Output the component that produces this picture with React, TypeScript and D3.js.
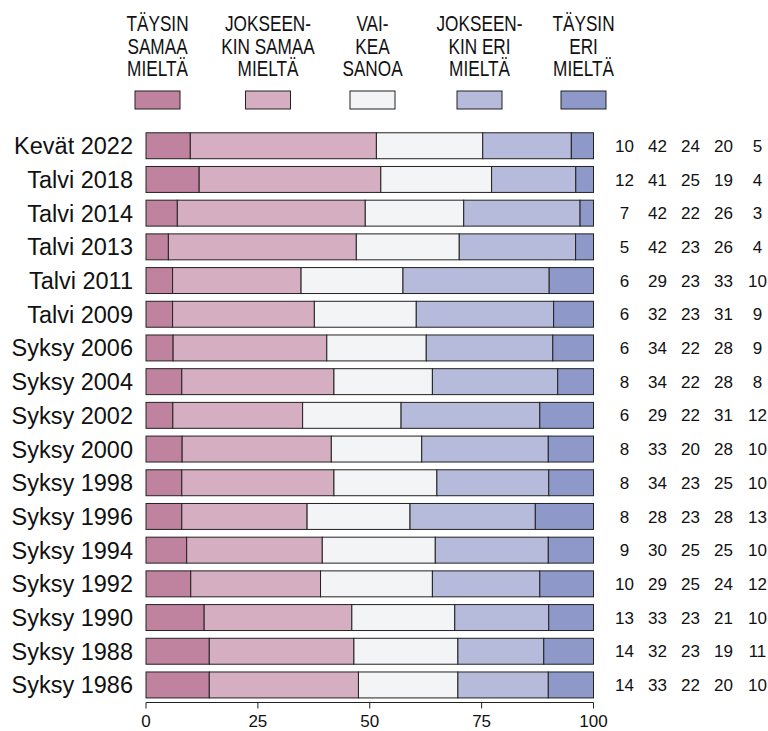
import React, { useEffect, useRef } from 'react';
import * as d3 from 'd3';

// Survey rows, newest first
const periods = [
  'Kevät 2022', 'Talvi 2018', 'Talvi 2014', 'Talvi 2013', 'Talvi 2011', 'Talvi 2009',
  'Syksy 2006', 'Syksy 2004', 'Syksy 2002', 'Syksy 2000', 'Syksy 1998', 'Syksy 1996',
  'Syksy 1994', 'Syksy 1992', 'Syksy 1990', 'Syksy 1988', 'Syksy 1986',
];

const taysinSamaa = [10, 12, 7, 5, 6, 6, 6, 8, 6, 8, 8, 8, 9, 10, 13, 14, 14];
const jokseenkinSamaa = [42, 41, 42, 42, 29, 32, 34, 34, 29, 33, 34, 28, 30, 29, 33, 32, 33];
const vaikeaSanoa = [24, 25, 22, 23, 23, 23, 22, 22, 22, 20, 23, 23, 25, 25, 23, 23, 22];
const jokseenkinEri = [20, 19, 26, 26, 33, 31, 28, 28, 31, 28, 25, 28, 25, 24, 21, 19, 20];
const taysinEri = [5, 4, 3, 4, 10, 9, 9, 8, 12, 10, 10, 13, 10, 12, 10, 11, 10];

const legendLabels = [
  ['TÄYSIN', 'SAMAA', 'MIELTÄ'],
  ['JOKSEEN-', 'KIN SAMAA', 'MIELTÄ'],
  ['VAI-', 'KEA', 'SANOA'],
  ['JOKSEEN-', 'KIN ERI', 'MIELTÄ'],
  ['TÄYSIN', 'ERI', 'MIELTÄ'],
];

const colors = ['#c0839f', '#d5aec1', '#f3f4f6', '#b6badb', '#8e98c9'];
const xTicks = [0, 25, 50, 75, 100];

const App = () => {
  const ref = useRef<SVGSVGElement | null>(null);

  useEffect(() => {
    const svg = d3.select(ref.current);
    svg.selectAll('*').remove();

    const series = [taysinSamaa, jokseenkinSamaa, vaikeaSanoa, jokseenkinEri, taysinEri];
    // bars are shares of the row total, so each row fills 0..100
    const rows = periods.map((p, i) => {
      const vals = series.map(s => s[i]);
      const total = d3.sum(vals);
      let acc = 0;
      const segs = vals.map((v, k) => {
        const start = acc;
        acc += (v / total) * 100;
        return { k, start, end: acc };
      });
      return { period: p, vals, segs };
    });

    const x = d3.scaleLinear().domain([0, 100]).range([146, 593.5]);
    const y = d3.scaleBand()
      .domain(periods)
      .range([128.9, 701.8])
      .paddingInner(0.23)
      .paddingOuter(0.115);

    const font = '"Liberation Sans", Arial, sans-serif';

    // Legend (narrow lettering, squeezed horizontally)
    const legendX = [157.5, 268, 372.5, 479.5, 583.5];
    const legend = svg.append('g');
    legendLabels.forEach((lines, k) => {
      lines.forEach((line, j) => {
        legend.append('text')
          .attr('transform', `translate(${legendX[k]},${31 + j * 22.5}) scale(0.8,1)`)
          .attr('text-anchor', 'middle')
          .attr('font-family', font)
          .attr('font-size', 21.5)
          .attr('fill', '#111')
          .text(line);
      });
      legend.append('rect')
        .attr('x', legendX[k] - 22.5)
        .attr('y', 91)
        .attr('width', 45)
        .attr('height', 18)
        .attr('fill', colors[k])
        .attr('stroke', '#222')
        .attr('stroke-width', 1);
    });

    // Bars
    const g = svg.append('g');
    const valX = [624.5, 657.5, 690.5, 723.5, 757.5];
    rows.forEach(r => {
      const y0 = y(r.period) as number;
      const yc = y0 + y.bandwidth() / 2;
      g.selectAll(null)
        .data(r.segs)
        .enter()
        .append('rect')
        .attr('x', d => x(d.start))
        .attr('y', y0)
        .attr('width', d => x(d.end) - x(d.start))
        .attr('height', y.bandwidth())
        .attr('fill', d => colors[d.k])
        .attr('stroke', '#222')
        .attr('stroke-width', 1);

      // row label
      g.append('text')
        .attr('x', 133)
        .attr('y', yc)
        .attr('dy', '0.36em')
        .attr('text-anchor', 'end')
        .attr('font-family', font)
        .attr('font-size', 23.5)
        .attr('fill', '#111')
        .text(r.period);

      // values on the right
      r.vals.forEach((v, k) => {
        g.append('text')
          .attr('x', valX[k])
          .attr('y', yc)
          .attr('dy', '0.36em')
          .attr('text-anchor', 'middle')
          .attr('font-family', font)
          .attr('font-size', 17)
          .attr('fill', '#111')
          .text(v);
      });
    });

    // X axis
    const axis = svg.append('g').attr('transform', 'translate(0,702.5)');
    axis.append('line')
      .attr('x1', x(0)).attr('x2', x(100))
      .attr('stroke', '#222');
    xTicks.forEach(t => {
      axis.append('line')
        .attr('x1', x(t)).attr('x2', x(t))
        .attr('y1', 0).attr('y2', 6)
        .attr('stroke', '#222');
      axis.append('text')
        .attr('x', x(t))
        .attr('y', 24)
        .attr('text-anchor', 'middle')
        .attr('font-family', font)
        .attr('font-size', 17)
        .attr('fill', '#111')
        .text(t);
    });
  }, []);

  return (
    <svg
      ref={ref}
      width={768}
      height={731}
      style={{ display: 'block', position: 'absolute', left: 0, top: 0, background: '#fff' }}
    />
  );
};

export default App;
